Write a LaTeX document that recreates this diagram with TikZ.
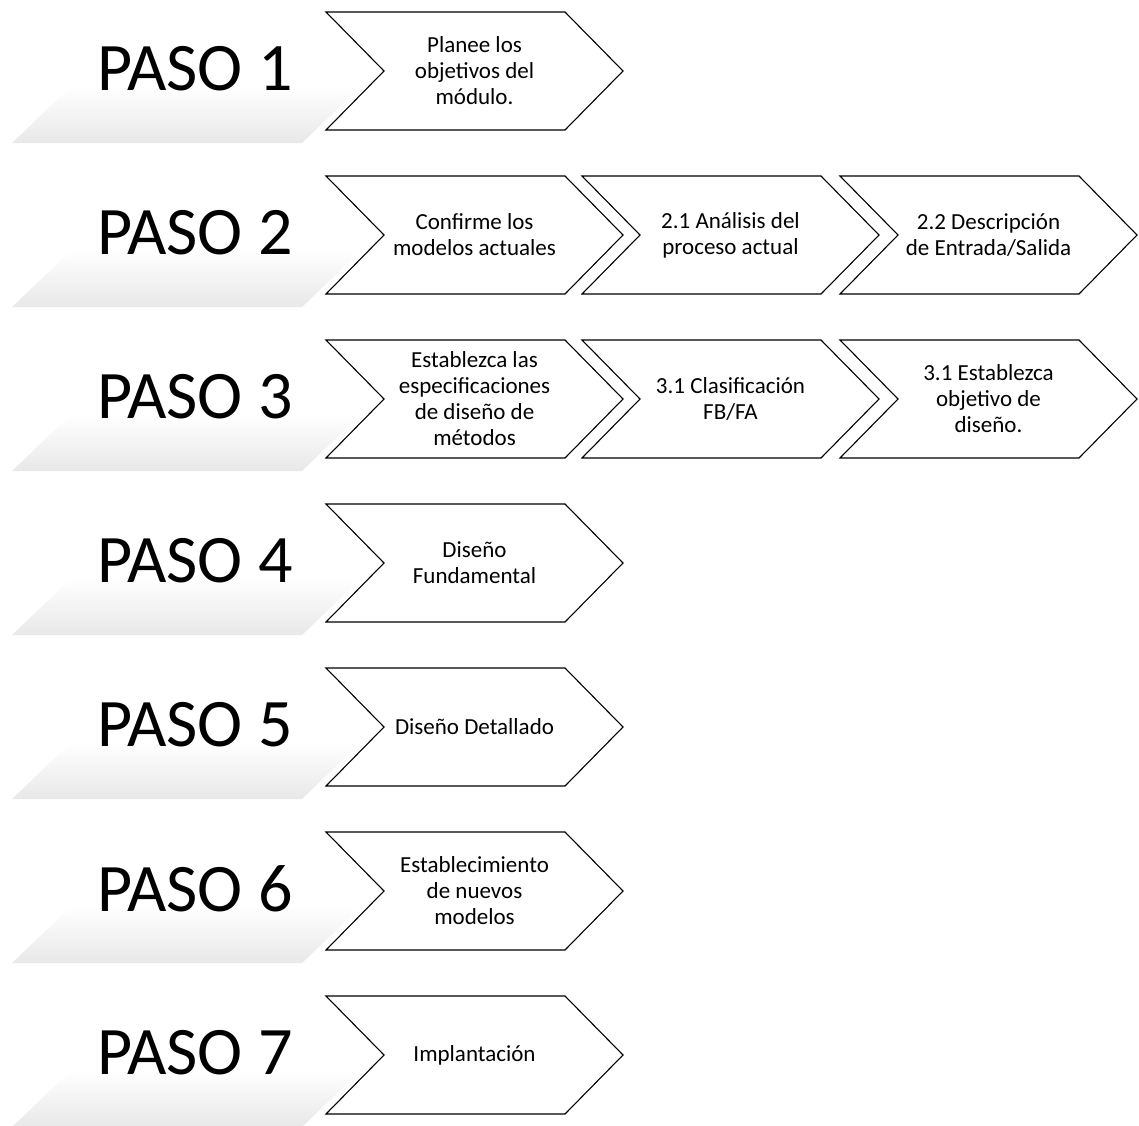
\documentclass[tikz,border=0pt]{standalone}
\usepackage{fontspec}
\setmainfont{Carlito}
% soft grey fade used under the step labels (path box maps to 25bp..75bp)
\pgfdeclareverticalshading{bandfade}{100bp}{%
  color(0bp)=(black!9); color(25bp)=(black!9); color(36bp)=(black!6);
  color(47bp)=(black!3); color(58bp)=(white); color(100bp)=(white)}
\begin{document}
\begin{tikzpicture}[x=1pt, y=-1pt,
  chev/.style={draw=black, line width=1.1pt, fill=white, line join=miter},
  chevtext/.style={font=\fontsize{23}{26}\selectfont, align=center, inner sep=0pt},
  pasotext/.style={font=\fontsize{68}{70}\selectfont, inner sep=0pt},
  band/.style={shading=bandfade, draw=none}]

% fixed page frame
\useasboundingbox (0,0) rectangle (1139,1125);

% chevron: #1 name, #2 left x, #3 centre y, #4 text
\newcommand\chevbox[4]{%
  \draw[chev] (#2,#3-59) -- ++(239,0) -- ++(58,59) -- ++(-58,59)
              -- ++(-239,0) -- ++(58,-59) -- cycle;
  \node[chevtext] (#1) at (#2+148.5,#3) {#4};
}
% step label on a faded slanted band: #1 name, #2 centre y, #3 text
\newcommand\steplabel[3]{%
  \shade[band] (12,#2+72) -- (302,#2+72) -- (392,#2-14) -- (102,#2-14) -- cycle;
  \node[pasotext] (#1) at (195,#2-2) {#3};
}

% row centres: 71 + 164k
\steplabel{p1}{71}{PASO 1}
\steplabel{p2}{235}{PASO 2}
\steplabel{p3}{399}{PASO 3}
\steplabel{p4}{563}{PASO 4}
\steplabel{p5}{727}{PASO 5}
\steplabel{p6}{891}{PASO 6}
\steplabel{p7}{1055}{PASO 7}

\chevbox{c1}{326}{71}{Planee los\\objetivos del\\módulo.}

\chevbox{c2}{326}{235}{Confirme los\\modelos actuales}
\chevbox{c21}{582}{235}{2.1 Análisis del\\proceso actual}
\chevbox{c22}{840}{235}{2.2 Descripción\\de Entrada/Salida}

\chevbox{c3}{326}{399}{Establezca las\\especificaciones\\de diseño de\\métodos}
\chevbox{c31}{582}{399}{3.1 Clasificación\\FB/FA}
\chevbox{c32}{840}{399}{3.1 Establezca\\objetivo de\\diseño.}

\chevbox{c4}{326}{563}{Diseño\\Fundamental}
\chevbox{c5}{326}{727}{Diseño Detallado}
\chevbox{c6}{326}{891}{Establecimiento\\de nuevos\\modelos}
\chevbox{c7}{326}{1055}{Implantación}
\end{tikzpicture}
\end{document}
